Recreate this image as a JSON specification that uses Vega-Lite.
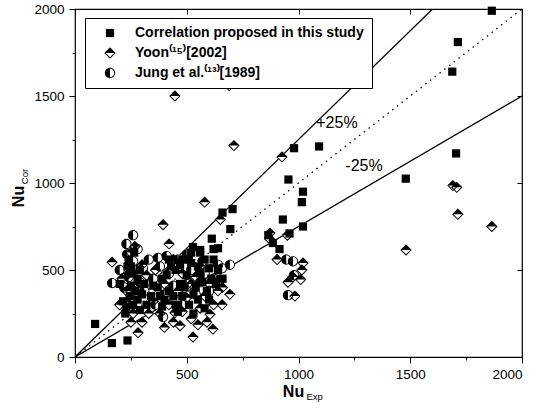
{
  "$schema": "https://vega.github.io/schema/vega-lite/v6.json",
  "width": 447,
  "height": 348,
  "autosize": {"type": "none"},
  "padding": {"left": 75, "top": 9, "right": 27, "bottom": 54},
  "background": "white",
  "config": {
    "view": {"stroke": "black", "strokeWidth": 1.2},
    "font": "Liberation Sans",
    "axis": {"grid": false, "domain": false, "tickColor": "black", "tickWidth": 1, "labelColor": "black", "titleColor": "black", "labelFont": "Liberation Sans", "titleFont": "Liberation Sans", "format": "d"}
  },
  "datasets": {
    "pts": [
      {"x": 90, "y": 190, "s": "Correlation proposed in this study"},
      {"x": 165, "y": 80, "s": "Correlation proposed in this study"},
      {"x": 235, "y": 95, "s": "Correlation proposed in this study"},
      {"x": 1865, "y": 1990, "s": "Correlation proposed in this study"},
      {"x": 1713, "y": 1810, "s": "Correlation proposed in this study"},
      {"x": 1688, "y": 1640, "s": "Correlation proposed in this study"},
      {"x": 1705, "y": 1170, "s": "Correlation proposed in this study"},
      {"x": 1480, "y": 1025, "s": "Correlation proposed in this study"},
      {"x": 1092, "y": 1210, "s": "Correlation proposed in this study"},
      {"x": 980, "y": 1200, "s": "Correlation proposed in this study"},
      {"x": 955, "y": 1020, "s": "Correlation proposed in this study"},
      {"x": 1020, "y": 950, "s": "Correlation proposed in this study"},
      {"x": 1015, "y": 890, "s": "Correlation proposed in this study"},
      {"x": 1020, "y": 750, "s": "Correlation proposed in this study"},
      {"x": 930, "y": 790, "s": "Correlation proposed in this study"},
      {"x": 960, "y": 710, "s": "Correlation proposed in this study"},
      {"x": 915, "y": 620, "s": "Correlation proposed in this study"},
      {"x": 865, "y": 700, "s": "Correlation proposed in this study"},
      {"x": 885, "y": 655, "s": "Correlation proposed in this study"},
      {"x": 660, "y": 830, "s": "Correlation proposed in this study"},
      {"x": 705, "y": 850, "s": "Correlation proposed in this study"},
      {"x": 695, "y": 735, "s": "Correlation proposed in this study"},
      {"x": 612, "y": 680, "s": "Correlation proposed in this study"},
      {"x": 640, "y": 625, "s": "Correlation proposed in this study"},
      {"x": 528, "y": 632, "s": "Correlation proposed in this study"},
      {"x": 560, "y": 615, "s": "Correlation proposed in this study"},
      {"x": 215, "y": 320, "s": "Correlation proposed in this study"},
      {"x": 230, "y": 290, "s": "Correlation proposed in this study"},
      {"x": 245, "y": 350, "s": "Correlation proposed in this study"},
      {"x": 250, "y": 410, "s": "Correlation proposed in this study"},
      {"x": 255, "y": 480, "s": "Correlation proposed in this study"},
      {"x": 260, "y": 300, "s": "Correlation proposed in this study"},
      {"x": 270, "y": 380, "s": "Correlation proposed in this study"},
      {"x": 280, "y": 330, "s": "Correlation proposed in this study"},
      {"x": 290, "y": 270, "s": "Correlation proposed in this study"},
      {"x": 300, "y": 360, "s": "Correlation proposed in this study"},
      {"x": 240, "y": 560, "s": "Correlation proposed in this study"},
      {"x": 250, "y": 520, "s": "Correlation proposed in this study"},
      {"x": 265, "y": 600, "s": "Correlation proposed in this study"},
      {"x": 320, "y": 300, "s": "Correlation proposed in this study"},
      {"x": 340, "y": 350, "s": "Correlation proposed in this study"},
      {"x": 225, "y": 250, "s": "Correlation proposed in this study"},
      {"x": 390, "y": 450, "s": "Correlation proposed in this study"},
      {"x": 420, "y": 380, "s": "Correlation proposed in this study"},
      {"x": 450, "y": 500, "s": "Correlation proposed in this study"},
      {"x": 470, "y": 420, "s": "Correlation proposed in this study"},
      {"x": 480, "y": 350, "s": "Correlation proposed in this study"},
      {"x": 500, "y": 470, "s": "Correlation proposed in this study"},
      {"x": 510, "y": 300, "s": "Correlation proposed in this study"},
      {"x": 520, "y": 540, "s": "Correlation proposed in this study"},
      {"x": 540, "y": 400, "s": "Correlation proposed in this study"},
      {"x": 550, "y": 330, "s": "Correlation proposed in this study"},
      {"x": 560, "y": 480, "s": "Correlation proposed in this study"},
      {"x": 570, "y": 430, "s": "Correlation proposed in this study"},
      {"x": 590, "y": 380, "s": "Correlation proposed in this study"},
      {"x": 600, "y": 510, "s": "Correlation proposed in this study"},
      {"x": 610, "y": 450, "s": "Correlation proposed in this study"},
      {"x": 620, "y": 560, "s": "Correlation proposed in this study"},
      {"x": 450, "y": 300, "s": "Correlation proposed in this study"},
      {"x": 430, "y": 520, "s": "Correlation proposed in this study"},
      {"x": 370, "y": 400, "s": "Correlation proposed in this study"},
      {"x": 400, "y": 330, "s": "Correlation proposed in this study"},
      {"x": 480, "y": 560, "s": "Correlation proposed in this study"},
      {"x": 520, "y": 600, "s": "Correlation proposed in this study"},
      {"x": 580, "y": 560, "s": "Correlation proposed in this study"},
      {"x": 640, "y": 500, "s": "Correlation proposed in this study"},
      {"x": 660, "y": 450, "s": "Correlation proposed in this study"},
      {"x": 460, "y": 260, "s": "Correlation proposed in this study"},
      {"x": 530, "y": 250, "s": "Correlation proposed in this study"},
      {"x": 580, "y": 280, "s": "Correlation proposed in this study"},
      {"x": 200, "y": 420, "s": "Correlation proposed in this study"},
      {"x": 280, "y": 450, "s": "Correlation proposed in this study"},
      {"x": 310, "y": 420, "s": "Correlation proposed in this study"},
      {"x": 235, "y": 520, "s": "Correlation proposed in this study"},
      {"x": 290, "y": 500, "s": "Correlation proposed in this study"},
      {"x": 380, "y": 350, "s": "Correlation proposed in this study"},
      {"x": 410, "y": 470, "s": "Correlation proposed in this study"},
      {"x": 440, "y": 350, "s": "Correlation proposed in this study"},
      {"x": 490, "y": 400, "s": "Correlation proposed in this study"},
      {"x": 530, "y": 360, "s": "Correlation proposed in this study"},
      {"x": 550, "y": 520, "s": "Correlation proposed in this study"},
      {"x": 600, "y": 330, "s": "Correlation proposed in this study"},
      {"x": 630, "y": 420, "s": "Correlation proposed in this study"},
      {"x": 470, "y": 530, "s": "Correlation proposed in this study"},
      {"x": 420, "y": 560, "s": "Correlation proposed in this study"},
      {"x": 390, "y": 290, "s": "Correlation proposed in this study"},
      {"x": 350, "y": 410, "s": "Correlation proposed in this study"},
      {"x": 510, "y": 560, "s": "Correlation proposed in this study"},
      {"x": 560, "y": 600, "s": "Correlation proposed in this study"},
      {"x": 620, "y": 620, "s": "Correlation proposed in this study"},
      {"x": 447, "y": 1500, "s": "Yoon⁽¹⁵⁾[2002]"},
      {"x": 690, "y": 1560, "s": "Yoon⁽¹⁵⁾[2002]"},
      {"x": 711, "y": 1215, "s": "Yoon⁽¹⁵⁾[2002]"},
      {"x": 926, "y": 1150, "s": "Yoon⁽¹⁵⁾[2002]"},
      {"x": 580, "y": 890, "s": "Yoon⁽¹⁵⁾[2002]"},
      {"x": 1481, "y": 615, "s": "Yoon⁽¹⁵⁾[2002]"},
      {"x": 1691, "y": 985, "s": "Yoon⁽¹⁵⁾[2002]"},
      {"x": 1708, "y": 975, "s": "Yoon⁽¹⁵⁾[2002]"},
      {"x": 1713, "y": 820, "s": "Yoon⁽¹⁵⁾[2002]"},
      {"x": 1865, "y": 750, "s": "Yoon⁽¹⁵⁾[2002]"},
      {"x": 1020, "y": 540, "s": "Yoon⁽¹⁵⁾[2002]"},
      {"x": 1015, "y": 500, "s": "Yoon⁽¹⁵⁾[2002]"},
      {"x": 1010, "y": 445, "s": "Yoon⁽¹⁵⁾[2002]"},
      {"x": 650, "y": 790, "s": "Yoon⁽¹⁵⁾[2002]"},
      {"x": 872, "y": 712, "s": "Yoon⁽¹⁵⁾[2002]"},
      {"x": 904, "y": 560, "s": "Yoon⁽¹⁵⁾[2002]"},
      {"x": 975, "y": 460, "s": "Yoon⁽¹⁵⁾[2002]"},
      {"x": 953, "y": 430, "s": "Yoon⁽¹⁵⁾[2002]"},
      {"x": 984, "y": 350, "s": "Yoon⁽¹⁵⁾[2002]"},
      {"x": 693, "y": 360, "s": "Yoon⁽¹⁵⁾[2002]"},
      {"x": 658, "y": 300, "s": "Yoon⁽¹⁵⁾[2002]"},
      {"x": 528, "y": 115, "s": "Yoon⁽¹⁵⁾[2002]"},
      {"x": 617, "y": 160, "s": "Yoon⁽¹⁵⁾[2002]"},
      {"x": 550, "y": 185, "s": "Yoon⁽¹⁵⁾[2002]"},
      {"x": 604, "y": 245, "s": "Yoon⁽¹⁵⁾[2002]"},
      {"x": 166, "y": 545, "s": "Yoon⁽¹⁵⁾[2002]"},
      {"x": 268, "y": 635, "s": "Yoon⁽¹⁵⁾[2002]"},
      {"x": 394, "y": 760, "s": "Yoon⁽¹⁵⁾[2002]"},
      {"x": 421, "y": 650, "s": "Yoon⁽¹⁵⁾[2002]"},
      {"x": 282, "y": 140, "s": "Yoon⁽¹⁵⁾[2002]"},
      {"x": 447, "y": 255, "s": "Yoon⁽¹⁵⁾[2002]"},
      {"x": 250, "y": 200, "s": "Yoon⁽¹⁵⁾[2002]"},
      {"x": 870, "y": 680, "s": "Yoon⁽¹⁵⁾[2002]"},
      {"x": 950, "y": 700, "s": "Yoon⁽¹⁵⁾[2002]"},
      {"x": 200, "y": 300, "s": "Yoon⁽¹⁵⁾[2002]"},
      {"x": 230, "y": 380, "s": "Yoon⁽¹⁵⁾[2002]"},
      {"x": 260, "y": 250, "s": "Yoon⁽¹⁵⁾[2002]"},
      {"x": 280, "y": 420, "s": "Yoon⁽¹⁵⁾[2002]"},
      {"x": 300, "y": 200, "s": "Yoon⁽¹⁵⁾[2002]"},
      {"x": 320, "y": 470, "s": "Yoon⁽¹⁵⁾[2002]"},
      {"x": 210, "y": 450, "s": "Yoon⁽¹⁵⁾[2002]"},
      {"x": 350, "y": 320, "s": "Yoon⁽¹⁵⁾[2002]"},
      {"x": 380, "y": 250, "s": "Yoon⁽¹⁵⁾[2002]"},
      {"x": 400, "y": 420, "s": "Yoon⁽¹⁵⁾[2002]"},
      {"x": 420, "y": 300, "s": "Yoon⁽¹⁵⁾[2002]"},
      {"x": 440, "y": 200, "s": "Yoon⁽¹⁵⁾[2002]"},
      {"x": 460, "y": 380, "s": "Yoon⁽¹⁵⁾[2002]"},
      {"x": 480, "y": 260, "s": "Yoon⁽¹⁵⁾[2002]"},
      {"x": 500, "y": 340, "s": "Yoon⁽¹⁵⁾[2002]"},
      {"x": 520, "y": 220, "s": "Yoon⁽¹⁵⁾[2002]"},
      {"x": 540, "y": 460, "s": "Yoon⁽¹⁵⁾[2002]"},
      {"x": 560, "y": 280, "s": "Yoon⁽¹⁵⁾[2002]"},
      {"x": 580, "y": 350, "s": "Yoon⁽¹⁵⁾[2002]"},
      {"x": 600, "y": 420, "s": "Yoon⁽¹⁵⁾[2002]"},
      {"x": 620, "y": 300, "s": "Yoon⁽¹⁵⁾[2002]"},
      {"x": 640, "y": 380, "s": "Yoon⁽¹⁵⁾[2002]"},
      {"x": 360, "y": 500, "s": "Yoon⁽¹⁵⁾[2002]"},
      {"x": 440, "y": 560, "s": "Yoon⁽¹⁵⁾[2002]"},
      {"x": 520, "y": 420, "s": "Yoon⁽¹⁵⁾[2002]"},
      {"x": 560, "y": 520, "s": "Yoon⁽¹⁵⁾[2002]"},
      {"x": 480, "y": 480, "s": "Yoon⁽¹⁵⁾[2002]"},
      {"x": 300, "y": 530, "s": "Yoon⁽¹⁵⁾[2002]"},
      {"x": 250, "y": 600, "s": "Yoon⁽¹⁵⁾[2002]"},
      {"x": 330, "y": 250, "s": "Yoon⁽¹⁵⁾[2002]"},
      {"x": 590, "y": 200, "s": "Yoon⁽¹⁵⁾[2002]"},
      {"x": 470, "y": 180, "s": "Yoon⁽¹⁵⁾[2002]"},
      {"x": 400, "y": 170, "s": "Yoon⁽¹⁵⁾[2002]"},
      {"x": 240, "y": 480, "s": "Yoon⁽¹⁵⁾[2002]"},
      {"x": 660, "y": 400, "s": "Yoon⁽¹⁵⁾[2002]"},
      {"x": 233, "y": 590, "s": "Jung et al.⁽¹³⁾[1989]"},
      {"x": 304, "y": 510, "s": "Jung et al.⁽¹³⁾[1989]"},
      {"x": 166, "y": 425, "s": "Jung et al.⁽¹³⁾[1989]"},
      {"x": 371, "y": 570, "s": "Jung et al.⁽¹³⁾[1989]"},
      {"x": 394, "y": 230, "s": "Jung et al.⁽¹³⁾[1989]"},
      {"x": 260, "y": 550, "s": "Jung et al.⁽¹³⁾[1989]"},
      {"x": 975, "y": 550, "s": "Jung et al.⁽¹³⁾[1989]"},
      {"x": 953, "y": 355, "s": "Jung et al.⁽¹³⁾[1989]"},
      {"x": 649, "y": 445, "s": "Jung et al.⁽¹³⁾[1989]"},
      {"x": 658, "y": 510, "s": "Jung et al.⁽¹³⁾[1989]"},
      {"x": 693, "y": 530, "s": "Jung et al.⁽¹³⁾[1989]"},
      {"x": 945, "y": 560, "s": "Jung et al.⁽¹³⁾[1989]"},
      {"x": 980, "y": 470, "s": "Jung et al.⁽¹³⁾[1989]"},
      {"x": 220, "y": 400, "s": "Jung et al.⁽¹³⁾[1989]"},
      {"x": 240, "y": 460, "s": "Jung et al.⁽¹³⁾[1989]"},
      {"x": 250, "y": 340, "s": "Jung et al.⁽¹³⁾[1989]"},
      {"x": 270, "y": 500, "s": "Jung et al.⁽¹³⁾[1989]"},
      {"x": 290, "y": 430, "s": "Jung et al.⁽¹³⁾[1989]"},
      {"x": 310, "y": 380, "s": "Jung et al.⁽¹³⁾[1989]"},
      {"x": 280, "y": 620, "s": "Jung et al.⁽¹³⁾[1989]"},
      {"x": 330, "y": 560, "s": "Jung et al.⁽¹³⁾[1989]"},
      {"x": 350, "y": 450, "s": "Jung et al.⁽¹³⁾[1989]"},
      {"x": 380, "y": 520, "s": "Jung et al.⁽¹³⁾[1989]"},
      {"x": 400, "y": 360, "s": "Jung et al.⁽¹³⁾[1989]"},
      {"x": 420, "y": 480, "s": "Jung et al.⁽¹³⁾[1989]"},
      {"x": 440, "y": 410, "s": "Jung et al.⁽¹³⁾[1989]"},
      {"x": 460, "y": 560, "s": "Jung et al.⁽¹³⁾[1989]"},
      {"x": 480, "y": 300, "s": "Jung et al.⁽¹³⁾[1989]"},
      {"x": 500, "y": 420, "s": "Jung et al.⁽¹³⁾[1989]"},
      {"x": 520, "y": 500, "s": "Jung et al.⁽¹³⁾[1989]"},
      {"x": 540, "y": 360, "s": "Jung et al.⁽¹³⁾[1989]"},
      {"x": 560, "y": 430, "s": "Jung et al.⁽¹³⁾[1989]"},
      {"x": 580, "y": 480, "s": "Jung et al.⁽¹³⁾[1989]"},
      {"x": 600, "y": 380, "s": "Jung et al.⁽¹³⁾[1989]"},
      {"x": 620, "y": 450, "s": "Jung et al.⁽¹³⁾[1989]"},
      {"x": 640, "y": 530, "s": "Jung et al.⁽¹³⁾[1989]"},
      {"x": 200, "y": 500, "s": "Jung et al.⁽¹³⁾[1989]"},
      {"x": 360, "y": 300, "s": "Jung et al.⁽¹³⁾[1989]"},
      {"x": 410, "y": 580, "s": "Jung et al.⁽¹³⁾[1989]"},
      {"x": 500, "y": 590, "s": "Jung et al.⁽¹³⁾[1989]"},
      {"x": 570, "y": 550, "s": "Jung et al.⁽¹³⁾[1989]"},
      {"x": 230, "y": 650, "s": "Jung et al.⁽¹³⁾[1989]"},
      {"x": 260, "y": 700, "s": "Jung et al.⁽¹³⁾[1989]"}
    ],
    "solid": [
      {"x": 0, "y": 0, "k": "+25%"},
      {"x": 1600, "y": 2000, "k": "+25%"},
      {"x": 0, "y": 0, "k": "-25%"},
      {"x": 2000, "y": 1500, "k": "-25%"}
    ],
    "diag": [
      {"x": 0, "y": 0},
      {"x": 2000, "y": 2000}
    ],
    "notes": [
      {"x": 1172, "y": 1345, "t": "+25%"},
      {"x": 1293, "y": 1098, "t": "-25%"}
    ]
  },
  "resolve": {
    "axis": {"x": "independent", "y": "independent"},
    "scale": {"shape": "independent"}
  },
  "layer": [
    {
      "data": {"name": "solid"},
      "mark": {"type": "line", "color": "black", "strokeWidth": 1.3, "clip": true},
      "encoding": {
        "x": {"field": "x", "type": "quantitative", "scale": {"domain": [0, 2000], "nice": false},
          "axis": {"orient": "bottom", "values": [0, 500, 1000, 1500, 2000], "tickSize": 6, "labelFontSize": 13.5, "labelPadding": 4,
            "title": "Nu", "titleFontSize": 16, "titleFontWeight": "bold", "titleX": 218, "titleY": 39, "titleAlign": "center", "titleBaseline": "alphabetic"}},
        "y": {"field": "y", "type": "quantitative", "scale": {"domain": [0, 2000], "nice": false},
          "axis": {"orient": "left", "values": [0, 500, 1000, 1500, 2000], "tickSize": 6, "labelFontSize": 13.5, "labelPadding": 5,
            "title": "Nu", "titleFontSize": 16, "titleFontWeight": "bold", "titleAngle": 270, "titleX": -52, "titleY": 187, "titleAlign": "center", "titleBaseline": "alphabetic"}},
        "detail": {"field": "k"}
      }
    },
    {
      "data": {"name": "diag"},
      "mark": {"type": "line", "color": "black", "strokeWidth": 1.3, "strokeDash": [1.5, 4.5], "clip": true},
      "encoding": {
        "x": {"field": "x", "type": "quantitative", "axis": null},
        "y": {"field": "y", "type": "quantitative", "axis": null}
      }
    },
    {
      "data": {"name": "pts"},
      "mark": {"type": "point", "filled": true, "fill": "white", "strokeWidth": 0, "size": 130, "opacity": 1},
      "encoding": {
        "x": {"field": "x", "type": "quantitative",
          "axis": {"orient": "bottom", "values": [250, 750, 1250, 1750], "labels": false, "tickSize": 3,
            "title": "Exp", "titleFontSize": 9.5, "titleFontWeight": "normal", "titleX": 231, "titleY": 42, "titleAlign": "left", "titleBaseline": "alphabetic"}},
        "y": {"field": "y", "type": "quantitative",
          "axis": {"orient": "left", "values": [250, 750, 1250, 1750], "labels": false, "tickSize": 3,
            "title": "Cor", "titleFontSize": 9.5, "titleFontWeight": "normal", "titleAngle": 270, "titleX": -48, "titleY": 167, "titleAlign": "center", "titleBaseline": "alphabetic"}},
        "shape": {"field": "s", "type": "nominal",
          "scale": {"domain": ["Correlation proposed in this study", "Yoon⁽¹⁵⁾[2002]", "Jung et al.⁽¹³⁾[1989]"],
            "range": ["M-0.72,-0.72L0.72,-0.72L0.72,0.72L-0.72,0.72Z", "M-1,0L0,-1L1,0L0,1Z", "M-0.9,0A0.9,0.9 0 1 0 0.9,0A0.9,0.9 0 1 0 -0.9,0Z"]},
          "legend": null}
      }
    },
    {
      "data": {"name": "pts"},
      "mark": {"type": "point", "filled": true, "fill": "black", "strokeWidth": 0, "size": 130, "opacity": 1},
      "encoding": {
        "x": {"field": "x", "type": "quantitative",
          "axis": {"orient": "top", "values": [0, 500, 1000, 1500, 2000], "labels": false, "tickSize": -5, "title": null}},
        "y": {"field": "y", "type": "quantitative",
          "axis": {"orient": "right", "values": [0, 500, 1000, 1500, 2000], "labels": false, "tickSize": -5, "title": null}},
        "shape": {"field": "s", "type": "nominal",
          "scale": {"domain": ["Correlation proposed in this study", "Yoon⁽¹⁵⁾[2002]", "Jung et al.⁽¹³⁾[1989]"],
            "range": ["M-0.72,-0.72L0.72,-0.72L0.72,0.72L-0.72,0.72Z", "M-1,0L0,-1L1,0Z M-1,0L0,1L1,0L0.76,0L0,0.76L-0.76,0Z", "M0,-0.9A0.9,0.9 0 0 0 0,0.9Z M0,-0.9A0.9,0.9 0 0 1 0,0.9L0,0.74A0.74,0.74 0 0 0 0,-0.74Z"]},
          "legend": {"title": null, "orient": "none", "legendX": 10, "legendY": 9, "strokeColor": "black", "fillColor": "white",
            "padding": 8, "symbolOffset": 10, "labelOffset": 18, "labelFont": "Liberation Sans", "labelFontSize": 14, "labelFontWeight": "bold",
            "labelColor": "black", "rowPadding": 6, "symbolFillColor": "black", "symbolStrokeColor": "black", "symbolStrokeWidth": 0, "symbolSize": 130, "labelLimit": 400}}
      }
    },
    {
      "data": {"name": "notes"},
      "mark": {"type": "text", "font": "Liberation Sans", "fontSize": 16, "color": "black", "align": "center", "baseline": "middle"},
      "encoding": {
        "x": {"field": "x", "type": "quantitative", "axis": null},
        "y": {"field": "y", "type": "quantitative", "axis": null},
        "text": {"field": "t"}
      }
    }
  ]
}
